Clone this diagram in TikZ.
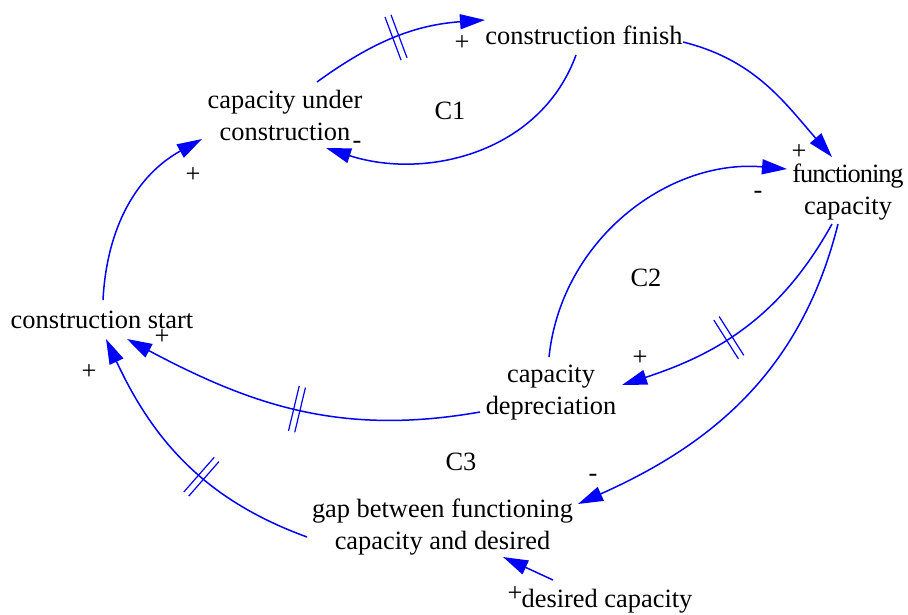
\documentclass[tikz,border=0pt]{standalone}
\usepackage{fontspec}
\setmainfont{Liberation Serif}
\usetikzlibrary{arrows.meta,decorations.markings}
\begin{document}
\begin{tikzpicture}[x=1pt,y=1pt,
  lbl/.style={inner sep=0pt, anchor=base, font=\rmfamily\fontsize{26.4}{32}\selectfont, align=center},
  sgn/.style={inner sep=0pt, anchor=base, font=\rmfamily\fontsize{26.4}{32}\selectfont},
  link/.style={draw=blue, line width=1.5pt, -{Triangle[length=25pt,width=15pt]}},
  delaymark/.style={postaction={decorate}, decoration={markings, mark=at position #1 with {\draw[blue,line width=1.2pt,-] (-3.2pt,-23pt)--(-3.2pt,23pt) (3.2pt,-23pt)--(3.2pt,23pt);}}}
]
\fill[white] (0,0) rectangle (908,-614);
\useasboundingbox (0,0) rectangle (908,-614);

% variables (base = baseline of the last line)
\node[lbl] (cf) at (584,-44) {construction finish};
\node[lbl] (cuc) at (285,-140) {capacity under\\construction};
\node[lbl] (fc) at (848,-214) {{\addfontfeature{LetterSpace=-4}functioning}\\capacity};
\node[lbl] (cs) at (102,-328) {construction start};
\node[lbl] (cd) at (551,-414) {capacity\\depreciation};
\node[lbl] (gap) at (442.5,-549) {gap between functioning\\capacity and desired};
\node[lbl] (dc) at (607,-607) {desired capacity};

% loop labels
\node[lbl] (c1) at (450,-119) {C1};
\node[lbl] (c2) at (646,-286) {C2};
\node[lbl] (c3) at (461,-470) {C3};

% polarity signs
\node[sgn] (s1) at (462,-50) {+};
\node[sgn] (s2) at (357,-148) {-};
\node[sgn] (s3) at (799,-159) {+};
\node[sgn] (s4) at (758,-198) {-};
\node[sgn] (s5) at (640,-365) {+};
\node[sgn] (s6) at (593,-481) {-};
\node[sgn] (s7) at (162,-344) {+};
\node[sgn] (s8) at (89,-379) {+};
\node[sgn] (s9) at (193,-182) {+};
\node[sgn] (s10) at (515,-601) {+};

% links
\draw[link, delaymark=0.5] ([shift={(32,58)}]cuc.base) to[out=36,in=184] ([shift={(-99,24)}]cf.base);
\draw[link] ([shift={(-8,-11)}]cf.base) to[out=-110,in=-18] ([shift={(41,-8)}]cuc.base);
\draw[link] ([shift={(99,2)}]cf.base) to[out=-14,in=131] ([shift={(-16,57)}]fc.base);
\draw[link] ([shift={(-2,57)}]cd.base) to[out=84,in=175] ([shift={(-61,45)}]fc.base);
\draw[link, delaymark=0.57] ([shift={(-16,-10)}]fc.base) to[out=-119,in=18] ([shift={(71,29)}]cd.base);
\draw[link] ([shift={(-10,-10)}]fc.base) to[out=-104,in=24] ([shift={(135.5,45)}]gap.base);
\draw[link, delaymark=0.5] ([shift={(-71,2)}]cd.base) to[out=190,in=-28] ([shift={(25,-11)}]cs.base);
\draw[link, delaymark=0.42] ([shift={(-135.5,12)}]gap.base) to[out=160,in=-65] ([shift={(4,-11)}]cs.base);
\draw[link] ([shift={(1,28)}]cs.base) to[out=87,in=209] ([shift={(-83,1)}]cuc.base);
\draw[link] ([shift={(-54,27)}]dc.base) -- ([shift={(60.5,-8)}]gap.base);
\end{tikzpicture}
\end{document}
